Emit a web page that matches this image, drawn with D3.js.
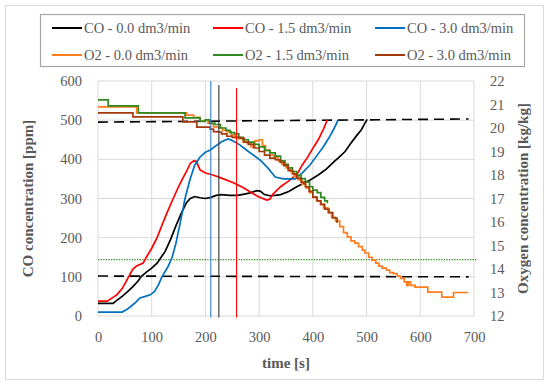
<!DOCTYPE html>
<html>
<head>
<meta charset="utf-8">
<script src="https://cdn.jsdelivr.net/npm/d3@7"></script>
<style>
  html, body { margin: 0; padding: 0; background: #fff; }
  svg { display: block; font-family: "Liberation Serif", "DejaVu Serif", serif; }
  .tick text { fill: #595959; font-size: 14.5px; }
</style>
</head>
<body>
<svg id="chart" width="550" height="386"></svg>
<script>
// CO concentration [ppm] vs time [s]
var coBlack = [[0,32],[28,32],[35,40],[45,50],[55,62],[65,75],[75,90],[80,100],[90,112],[100,122],[110,135],[115,145],[125,165],[135,195],[145,230],[155,262],[165,290],[172,300],[180,305],[190,302],[200,300],[210,303],[220,308],[230,310],[245,308],[260,308],[275,312],[285,315],[295,320],[302,319],[310,310],[320,307],[330,308],[340,310],[355,318],[370,330],[385,340],[395,347],[410,360],[425,375],[440,395],[447,403],[460,420],[470,440],[480,458],[490,475],[496,490],[501,502]];
var coRed = [[0,38],[17,38],[25,45],[35,54],[45,70],[55,95],[65,120],[72,128],[84,135],[90,150],[100,173],[110,200],[120,235],[128,262],[140,300],[150,330],[156,347],[165,370],[172,390],[178,396],[183,395],[190,373],[200,365],[214,360],[230,352],[252,340],[270,328],[289,312],[300,304],[314,296],[320,298],[325,310],[330,317],[340,330],[350,340],[360,350],[372,365],[380,385],[390,405],[400,428],[410,450],[420,478],[427,501]];
var coBlue = [[0,10],[45,10],[52,15],[60,23],[70,35],[78,46],[88,50],[97,54],[105,62],[112,78],[119,100],[130,125],[138,150],[145,185],[153,237],[162,300],[171,347],[180,385],[190,406],[200,418],[209,424],[220,435],[230,445],[242,452],[250,448],[264,437],[280,420],[302,398],[315,380],[330,355],[345,350],[355,350],[367,350],[380,365],[395,386],[405,405],[419,431],[430,455],[440,480],[447,501]];

// Oxygen concentration [kg/kg] vs time [s]
var o2Orange = [[0,20.9],[72,20.64],[165,20.55],[178,20.45],[190,20.3],[200,20.35],[205,20.2],[215,20.05],[225,20.0],[232,19.9],[240,19.85],[248,19.7],[255,19.6],[262,19.55],[270,19.4],[278,19.35],[285,19.2],[292,19.45],[300,19.5],[306,19.25],[312,19.05],[320,18.85],[328,18.75],[335,18.6],[342,18.45],[350,18.3],[357,18.15],[365,17.95],[372,17.8],[380,17.6],[387,17.45],[394,17.25],[400,17.05],[407,16.9],[414,16.75],[420,16.6],[428,16.4],[435,16.2],[442,16.05],[450,15.8],[457,15.55],[464,15.37],[471,15.2],[478,15.1],[485,14.95],[492,14.8],[497,14.68],[504,14.5],[510,14.38],[517,14.25],[523,14.12],[529,14.04],[537,13.95],[543,13.85],[550,13.8],[557,13.7],[563,13.6],[570,13.45],[575,13.3],[578,13.45],[582,13.3],[590,13.23],[614,13.02],[640,12.8],[662,13.0],[689,13.0]];
var o2Green = [[0,21.2],[19,20.94],[75,20.64],[162,20.43],[190,20.28],[200,20.35],[208,20.2],[218,20.15],[228,20.0],[238,19.9],[246,19.8],[254,19.75],[262,19.6],[270,19.5],[280,19.4],[290,19.3],[300,19.2],[310,19.05],[320,18.94],[330,18.8],[340,18.6],[348,18.45],[354,18.3],[362,18.15],[370,17.98],[378,17.85],[386,17.7],[394,17.5],[400,17.36],[408,17.25],[415,17.05],[422,16.9],[427,16.8]];
var o2Brown = [[0,20.64],[65,20.47],[158,20.26],[184,20.04],[209,19.95],[215,19.85],[222,19.83],[230,19.75],[240,19.65],[250,19.6],[264,19.57],[272,19.4],[280,19.3],[290,19.15],[300,19.0],[310,18.85],[320,18.72],[330,18.65],[339,18.55],[346,18.4],[354,18.2],[362,18.05],[370,17.87],[378,17.7],[386,17.5],[393,17.3],[400,17.06],[408,16.9],[415,16.75],[422,16.55],[430,16.4],[437,16.17],[445,15.96]];

// reference lines
var dashHigh = [[0,495],[690,503]];
var dashLow = [[0,102],[690,100]];
var dotO2 = [[0,14.4],[705,14.4]];
var vLines = [{t: 210, top: 600, color: "#2e7fd0"}, {t: 225, top: 590, color: "#333333"}, {t: 258, top: 582, color: "#ff0000"}];

var xTicks = [0, 100, 200, 300, 400, 500, 600, 700];
var leftTicks = [0, 100, 200, 300, 400, 500, 600];
var rightTicks = [12, 13, 14, 15, 16, 17, 18, 19, 20, 21, 22];

var legendNames = ["CO - 0.0 dm3/min", "CO - 1.5 dm3/min", "CO - 3.0 dm3/min", "O2 - 0.0 dm3/min", "O2 - 1.5 dm3/min", "O2 - 3.0 dm3/min"];
var colors = ["#000000", "#ff0000", "#0070c0", "#ff7c1f", "#2e8b20", "#a23b0b"];

var svg = d3.select("#chart");
var pLeft = 98, pRight = 474, pTop = 81, pBottom = 316;

var x = d3.scaleLinear().domain([0, 700]).range([pLeft, pRight]);
var yL = d3.scaleLinear().domain([0, 600]).range([pBottom, pTop]);
var yR = d3.scaleLinear().domain([12, 22]).range([pBottom, pTop]);

// outer frame
svg.append("rect").attr("x", 5.5).attr("y", 5.5).attr("width", 538).attr("height", 374)
  .attr("fill", "#fff").attr("stroke", "#d9d9d9");

// grid
var g = svg.append("g");
g.selectAll(".vg").data(xTicks).enter().append("line")
  .attr("x1", function (d) { return x(d); }).attr("x2", function (d) { return x(d); })
  .attr("y1", pTop).attr("y2", pBottom).attr("stroke", "#d9d9d9");
g.selectAll(".hg").data(leftTicks).enter().append("line")
  .attr("x1", pLeft).attr("x2", pRight)
  .attr("y1", function (d) { return yL(d); }).attr("y2", function (d) { return yL(d); })
  .attr("stroke", "#d9d9d9");

// axes (labels only)
var ax = svg.append("g").attr("transform", "translate(0," + pBottom + ")")
  .call(d3.axisBottom(x).tickValues(xTicks).tickSize(0).tickPadding(16));
var ayl = svg.append("g").attr("transform", "translate(" + pLeft + ",0)")
  .call(d3.axisLeft(yL).tickValues(leftTicks).tickSize(0).tickPadding(16));
var ayr = svg.append("g").attr("transform", "translate(" + pRight + ",0)")
  .call(d3.axisRight(yR).tickValues(rightTicks).tickSize(0).tickPadding(16));
[ax, ayl, ayr].forEach(function (a) {
  a.select(".domain").remove();
  a.attr("font-family", null).attr("font-size", null);
});

// axis titles
svg.append("text").attr("x", (pLeft + pRight) / 2).attr("y", 368).attr("text-anchor", "middle")
  .attr("font-size", 15).attr("font-weight", "bold").attr("fill", "#595959").text("time [s]");
svg.append("text").attr("transform", "translate(33," + (pTop + pBottom) / 2 + ") rotate(-90)")
  .attr("text-anchor", "middle").attr("font-size", 15).attr("font-weight", "bold")
  .attr("fill", "#595959").text("CO concentration [ppm]");
svg.append("text").attr("transform", "translate(528," + (pTop + pBottom) / 2 + ") rotate(-90)")
  .attr("text-anchor", "middle").attr("font-size", 15).attr("font-weight", "bold")
  .attr("fill", "#595959").text("Oxygen concentration [kg/kg]");

var lineL = d3.line().x(function (d) { return x(d[0]); }).y(function (d) { return yL(d[1]); });
var lineR = d3.line().x(function (d) { return x(d[0]); }).y(function (d) { return yR(d[1]); });
var stepR = d3.line().curve(d3.curveStepAfter).x(function (d) { return x(d[0]); }).y(function (d) { return yR(d[1]); });

// reference lines
svg.append("path").attr("d", lineL(dashHigh)).attr("fill", "none").attr("stroke", "#000")
  .attr("stroke-width", 1.6).attr("stroke-dasharray", "10,6");
svg.append("path").attr("d", lineL(dashLow)).attr("fill", "none").attr("stroke", "#000")
  .attr("stroke-width", 1.6).attr("stroke-dasharray", "10,6");
svg.append("path").attr("d", lineR(dotO2)).attr("fill", "none").attr("stroke", "#2f8a1f")
  .attr("stroke-width", 1.3).attr("stroke-dasharray", "1.3,1.3");

// series
[coBlack, coRed, coBlue].forEach(function (s, i) {
  svg.append("path").attr("d", lineL(s)).attr("fill", "none")
    .attr("stroke", colors[i]).attr("stroke-width", 1.7);
});
[o2Orange, o2Green, o2Brown].forEach(function (s, i) {
  svg.append("path").attr("d", stepR(s)).attr("fill", "none")
    .attr("stroke", colors[i + 3]).attr("stroke-width", 1.7);
});

// vertical markers
svg.selectAll(".vl").data(vLines).enter().append("line")
  .attr("x1", function (d) { return x(d.t); }).attr("x2", function (d) { return x(d.t); })
  .attr("y1", function (d) { return yL(d.top); }).attr("y2", yL(-4))
  .attr("stroke", function (d) { return d.color; }).attr("stroke-width", 1.1);

// legend
svg.append("rect").attr("x", 40.5).attr("y", 14.5).attr("width", 484).attr("height", 52)
  .attr("fill", "none").attr("stroke", "#a6a6a6").attr("stroke-width", 1.2);
var colX = [52, 213, 375];
var rowY = [28, 55];
var leg = svg.selectAll(".leg").data(legendNames).enter().append("g")
  .attr("transform", function (d, i) { return "translate(" + colX[i % 3] + "," + rowY[Math.floor(i / 3)] + ")"; });
leg.append("line").attr("x1", 0).attr("x2", 30).attr("y1", 0).attr("y2", 0)
  .attr("stroke", function (d, i) { return colors[i]; }).attr("stroke-width", 2);
leg.append("text").attr("x", 32).attr("y", 5).attr("font-size", 14.5).attr("fill", "#595959")
  .text(function (d) { return d; });
</script>
</body>
</html>
